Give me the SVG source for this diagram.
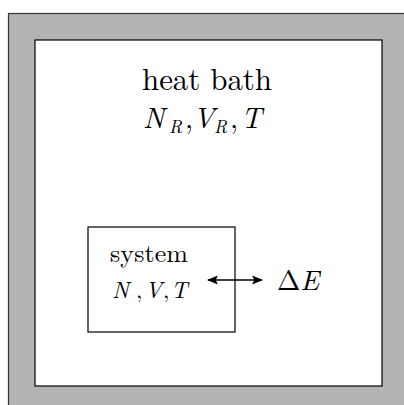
<svg xmlns="http://www.w3.org/2000/svg" width="404" height="405" viewBox="0 0 404 405">
<style>
.t{font-family:"Latin Modern Roman","Liberation Serif",serif;fill:#000}
.i{font-style:italic}
.box{fill:#fff;stroke:#000;stroke-width:1.2}
</style>
<defs>
<marker id="ah" viewBox="0 0 10 10" refX="9" refY="5" markerWidth="11" markerHeight="11" markerUnits="userSpaceOnUse" orient="auto-start-reverse">
<path d="M0,0.8 L10,5 L0,9.2 L2,5 Z" fill="#000"/>
</marker>
</defs>
<g id="bath">
<rect x="8.5" y="13.5" width="400" height="400" fill="#b3b3b3" stroke="#333" stroke-width="1.2"/>
<rect x="35" y="40" width="347" height="346" class="box"/>
<text x="142" y="90" class="t" font-size="31" textLength="130" lengthAdjust="spacing">heat bath</text>
<text y="128" class="t" font-size="29"><tspan class="i" x="143">N</tspan><tspan class="i" font-size="18" x="169" dy="5">R</tspan><tspan x="185" dy="-5">,</tspan><tspan class="i" x="193">V</tspan><tspan class="i" font-size="18" x="214" dy="5">R</tspan><tspan x="230" dy="-5">,</tspan><tspan class="i" x="241">T</tspan></text>
</g>
<g id="system">
<rect x="88" y="227" width="147" height="105" class="box"/>
<text x="110" y="262" class="t" font-size="26" textLength="78" lengthAdjust="spacing">system</text>
<text y="298" class="t" font-size="23"><tspan class="i" x="112">N</tspan><tspan x="136">,</tspan><tspan class="i" x="145">V</tspan><tspan x="163">,</tspan><tspan class="i" x="171">T</tspan></text>
</g>
<g id="connectors">
<line x1="208" y1="280" x2="262" y2="280" stroke="#000" stroke-width="1.3" marker-start="url(#ah)" marker-end="url(#ah)"/>
</g>
<g id="label">
<text x="277" y="290" class="t" font-size="28">Δ<tspan class="i">E</tspan></text>
</g>
</svg>
